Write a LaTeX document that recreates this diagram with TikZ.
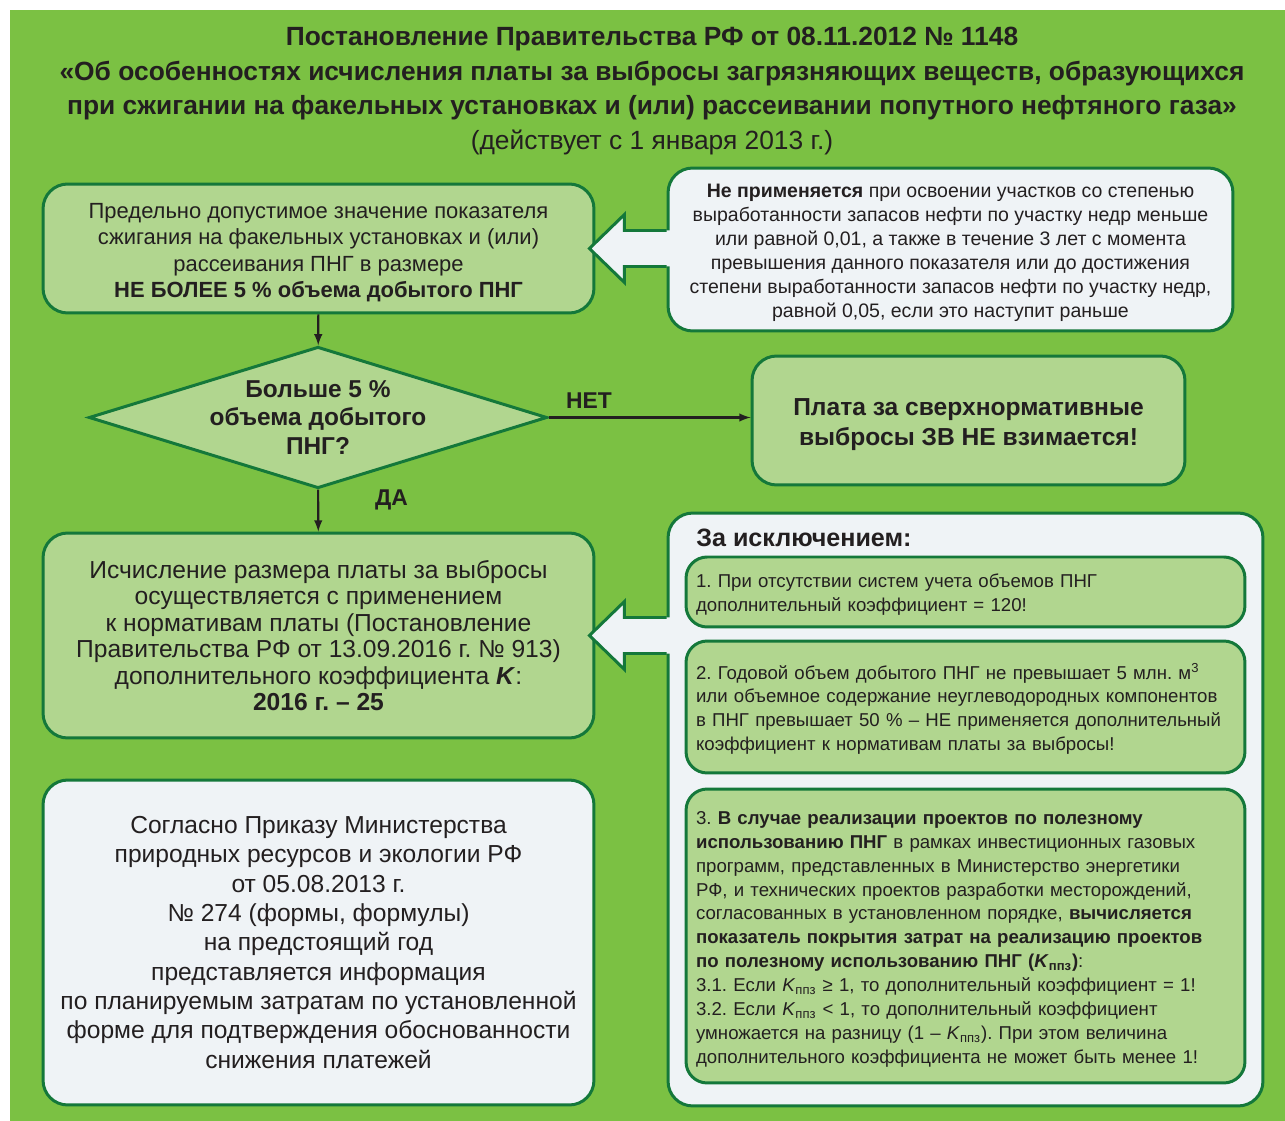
\documentclass[tikz,border=0pt]{standalone}
\usepackage{fontspec}
\setmainfont{Liberation Sans}
\usetikzlibrary{shapes.geometric,positioning,calc}
\definecolor{bggreen}{RGB}{123,193,67}
\definecolor{lightgreen}{RGB}{177,214,143}
\definecolor{darkgreen}{RGB}{20,120,58}
\definecolor{paleblue}{RGB}{239,243,246}
\definecolor{textcol}{RGB}{35,31,32}
\newcommand\tophead{\rule{0pt}{1.05em}}
\tikzset{
  box/.style={draw=darkgreen,line width=1.7pt,rounded corners=14pt,text=textcol,align=center,inner sep=0pt},
  greenbox/.style={box,fill=lightgreen},
  whitebox/.style={box,fill=paleblue},
  subbox/.style={box,fill=lightgreen,rounded corners=12pt,align=left,text width=10.78cm,inner xsep=0.2cm,minimum width=11.18cm,
    font=\fontsize{10.6}{13.6}\selectfont},
  flow/.style={->,>=latex,draw=textcol,line width=1.2pt},
  answer/.style={text=textcol,font=\fontsize{13}{15}\selectfont\bfseries}
}
\frenchspacing
\begin{document}
\begin{tikzpicture}
[x=0.02cm,y=-0.02cm]
\useasboundingbox (0,0) rectangle (1285,1121);
\fill[bggreen] (10,10) rectangle (1285,1121);

\node (title) at (652,91) [text=textcol,align=center,font=\fontsize{15}{19.8}\selectfont]
{\textbf{Постановление Правительства РФ от 08.11.2012 № 1148}\\
\textbf{«Об особенностях исчисления платы за выбросы загрязняющих веществ, образующихся}\\
\textbf{при сжигании на факельных установках и (или) рассеивании попутного нефтяного газа»}\\
(действует с 1 января 2013 г.)};

\node (limit) at (318.5,248.5) [greenbox,minimum width=11.02cm,minimum height=2.58cm,font=\fontsize{12.5}{15}\selectfont]
{\tophead Предельно допустимое значение показателя\\
сжигания на факельных установках и (или)\\
рассеивания ПНГ в размере\\
\textbf{НЕ БОЛЕЕ 5 \% объема добытого ПНГ}};

\node (except) at (950.5,249.5) [whitebox,minimum width=11.3cm,minimum height=3.26cm,font=\fontsize{11.1}{13.6}\selectfont]
{\tophead\textbf{Не применяется} при освоении участков со степенью\\
выработанности запасов нефти по участку недр меньше\\
или равной 0,01, а также в течение 3 лет с момента\\
превышения данного показателя или до достижения\\
степени выработанности запасов нефти по участку недр,\\
равной 0,05, если это наступит раньше};

\node (check) at (318,417.5) [diamond,aspect=3.24,draw=darkgreen,fill=lightgreen,line width=1.7pt,inner sep=0pt,
  minimum width=9.02cm,minimum height=2.78cm,align=center,text=textcol,font=\fontsize{13.9}{16.4}\selectfont\bfseries]
{Больше 5 \%\\ объема добытого\\ ПНГ?};

\node (nofee) at (968.5,420.5) [greenbox,minimum width=8.66cm,minimum height=2.58cm,font=\fontsize{14}{17}\selectfont\bfseries]
{\tophead Плата за сверхнормативные\\ выбросы ЗВ НЕ взимается!};

\node (calc) at (318.5,635.5) [greenbox,minimum width=11.02cm,minimum height=4.1cm,font=\fontsize{14}{15.1}\selectfont]
{Исчисление размера платы за выбросы\\
осуществляется с применением\\
к нормативам платы (Постановление\\
Правительства РФ от 13.09.2016 г. № 913)\\
дополнительного коэффициента \textbf{\textit{K}}:\\
\textbf{2016 г. – 25}};

\node (order) at (318.5,942.5) [whitebox,minimum width=11.02cm,minimum height=6.5cm,font=\fontsize{14}{16.7}\selectfont]
{Согласно Приказу Министерства\\
природных ресурсов и экологии РФ\\
от 05.08.2013 г.\\
№ 274 (формы, формулы)\\
на предстоящий год\\
представляется информация\\
по планируемым затратам по установленной\\
форме для подтверждения обоснованности\\
снижения платежей};

\node (excl) at (965.5,809.5) [whitebox,minimum width=11.9cm,minimum height=11.86cm] {};
\node (excltitle) at (696,538) [anchor=west,inner sep=0pt,text=textcol,font=\fontsize{14.3}{16}\selectfont\bfseries] {За исключением:};

\node (ex1) at (965.5,592) [subbox,minimum height=1.4cm]
{\tophead 1. При отсутствии систем учета объемов ПНГ\\
дополнительный коэффициент = 120!};

\node (ex2) at (965.5,707) [subbox,minimum height=2.64cm]
{\tophead 2. Годовой объем добытого ПНГ не превышает 5 млн. м\textsuperscript{3}\\
или объемное содержание неуглеводородных компонентов\\
в ПНГ превышает 50 \% – НЕ применяется дополнительный\\
коэффициент к нормативам платы за выбросы!};

\node (ex3) at (965.5,936) [subbox,minimum height=5.88cm]
{\tophead 3. \textbf{В случае реализации проектов по полезному}\\
\textbf{использованию ПНГ} в рамках инвестиционных газовых\\
программ, представленных в Министерство энергетики\\
РФ, и технических проектов разработки месторождений,\\
согласованных в установленном порядке, \textbf{вычисляется}\\
\textbf{показатель покрытия затрат на реализацию проектов}\\
\textbf{по полезному использованию ПНГ (\textit{K}\textsubscript{ппз})}:\\
3.1. Если \textit{K}\textsubscript{ппз} ≥ 1, то дополнительный коэффициент = 1!\\
3.2. Если \textit{K}\textsubscript{ппз} < 1, то дополнительный коэффициент\\
умножается на разницу (1 – \textit{K}\textsubscript{ппз}). При этом величина\\
дополнительного коэффициента не может быть менее 1!};

\draw[flow] (limit) -- (check);
\draw[flow] (check.east) -- node[answer,pos=0.2,above=0.05cm] {НЕТ} (check.east -| nofee.west);
\draw[flow] (check) -- node[answer,pos=0.25,right=1cm] {ДА} (calc);

\foreach \src/\dst in {except/limit,excl/calc}
{
  \fill[paleblue] ($(\src.west |- \dst.east)+(4,-18)$) -- ($(\dst.east)+(29,-18)$) -- ++(0,-16)
  -- ($(\dst.east)+(-6,0)$) -- ($(\dst.east)+(29,34)$) -- ++(0,-16) -- ($(\src.west |- \dst.east)+(4,18)$) -- cycle;
  \draw[darkgreen,line width=1.7pt,line join=miter] ($(\src.west |- \dst.east)+(0,-18)$) -- ($(\dst.east)+(29,-18)$) -- ++(0,-16)
  -- ($(\dst.east)+(-6,0)$) -- ($(\dst.east)+(29,34)$) -- ++(0,-16) -- ($(\src.west |- \dst.east)+(0,18)$);
}
\end{tikzpicture}
\end{document}
